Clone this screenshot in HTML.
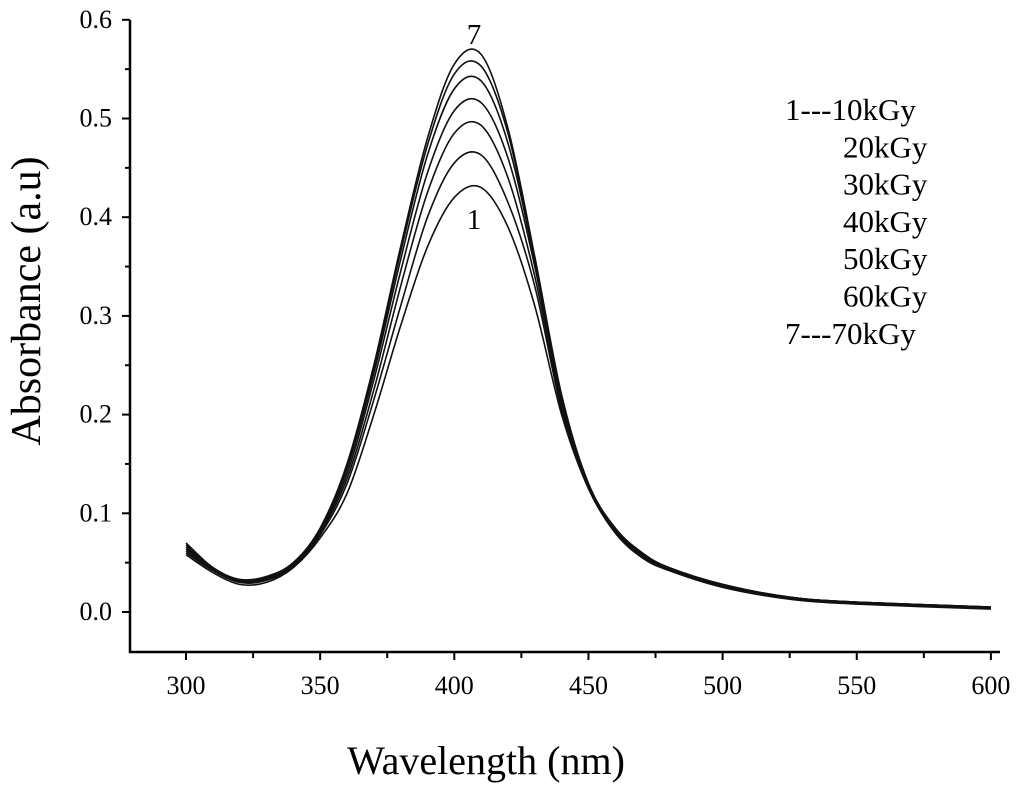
<!DOCTYPE html>
<html><head><meta charset="utf-8"><style>
body{margin:0;background:#fff}
svg{display:block;font-family:"Liberation Serif",serif}
</style></head><body>
<svg id="c" width="1024" height="790"></svg>
<script>
const wavelengths=[300,310,320,330,340,350,360,370,380,390,400,410,420,430,440,450,460,470,480,500,525,550,600];
const s1=[0.058,0.04,0.028,0.03,0.045,0.075,0.12,0.2,0.29,0.37,0.42,0.43,0.39,0.31,0.2,0.125,0.08,0.055,0.042,0.025,0.013,0.008,0.003];
const s2=[0.06,0.042,0.03,0.032,0.046,0.078,0.13,0.215,0.31,0.4,0.455,0.463,0.415,0.33,0.205,0.127,0.081,0.056,0.043,0.026,0.014,0.009,0.004];
const s3=[0.062,0.043,0.031,0.033,0.047,0.08,0.135,0.225,0.33,0.425,0.485,0.493,0.44,0.34,0.21,0.128,0.082,0.057,0.044,0.027,0.014,0.009,0.004];
const s4=[0.064,0.044,0.031,0.034,0.048,0.082,0.14,0.235,0.345,0.445,0.508,0.516,0.46,0.35,0.213,0.129,0.083,0.058,0.044,0.027,0.015,0.009,0.004];
const s5=[0.066,0.044,0.032,0.035,0.049,0.083,0.145,0.242,0.357,0.463,0.53,0.538,0.475,0.355,0.216,0.13,0.084,0.059,0.045,0.028,0.015,0.01,0.005];
const s6=[0.068,0.045,0.032,0.035,0.05,0.084,0.148,0.247,0.365,0.473,0.545,0.553,0.485,0.358,0.218,0.13,0.085,0.06,0.045,0.028,0.015,0.01,0.005];
const s7=[0.07,0.045,0.033,0.036,0.05,0.085,0.15,0.25,0.37,0.48,0.555,0.565,0.49,0.36,0.22,0.13,0.085,0.06,0.045,0.028,0.015,0.01,0.005];
const seriesList=[s1,s2,s3,s4,s5,s6,s7];
const xTicks=[300,350,400,450,500,550,600];
const yTicks=[0.0,0.1,0.2,0.3,0.4,0.5,0.6];
const legendLabels=["1---10kGy","20kGy","30kGy","40kGy","50kGy","60kGy","7---70kGy"];

const NS="http://www.w3.org/2000/svg";
const svg=document.getElementById('c');
const X=v=>186+(v-300)*2.683;
const Y=v=>612-v*987;
function el(t,a,p){const e=document.createElementNS(NS,t);for(const k in a)e.setAttribute(k,a[k]);(p||svg).appendChild(e);return e;}

let ax=el('path',{d:'M130,20 L130,652 L1000,652',fill:'none',stroke:'#000','stroke-width':2.5});


for(let v=300;v<=600;v+=25){const major=v%50===0;
 const t=el('line',{x1:X(v),x2:X(v),y1:652,y2:major?660:658,stroke:'#000','stroke-width':2});
 
 }
xTicks.forEach(v=>{const t=el('text',{x:X(v),y:694,'font-size':26,'text-anchor':'middle'});t.textContent=v;
 
 });
for(let i=0;i<=12;i++){const v=i*0.05;const major=i%2===0;
 const t=el('line',{x1:major?122:125,x2:130,y1:Y(v),y2:Y(v),stroke:'#000','stroke-width':2});
 
 }
yTicks.forEach(v=>{const t=el('text',{x:112,y:Y(v)+8,'font-size':26,'text-anchor':'end'});t.textContent=v.toFixed(1);
 
 });
let xt=el('text',{x:486,y:774,'font-size':40,'text-anchor':'middle'});xt.textContent='Wavelength (nm)';


let yt=el('text',{x:0,y:0,'font-size':42,'text-anchor':'middle',transform:'translate(40,301) rotate(-90)'});yt.textContent='Absorbance (a.u)';



function path(vals){const p=wavelengths.map((w,i)=>[X(w),Y(vals[i])]);let d='M'+p[0][0]+','+p[0][1];
 for(let i=0;i<p.length-1;i++){const p0=p[i-1]||p[i],p1=p[i],p2=p[i+1],p3=p[i+2]||p2;
  d+=` C${p1[0]+(p2[0]-p0[0])/6},${p1[1]+(p2[1]-p0[1])/6} ${p2[0]-(p3[0]-p1[0])/6},${p2[1]-(p3[1]-p1[1])/6} ${p2[0]},${p2[1]}`;}
 return d;}
seriesList.forEach((s,i)=>{const l=el('path',{d:path(s),fill:'none',stroke:'#111','stroke-width':1.6});
 
 });
let a7=el('text',{x:474,y:44,'font-size':29,'text-anchor':'middle'});a7.textContent='7';


let a1=el('text',{x:474,y:229,'font-size':29,'text-anchor':'middle'});a1.textContent='1';


legendLabels.forEach((s,i)=>{const t=el('text',{x:s.startsWith('1')||s.startsWith('7')?785:843,y:120+i*37.3,'font-size':31});t.textContent=s;
 
 });
</script>
</body></html>
